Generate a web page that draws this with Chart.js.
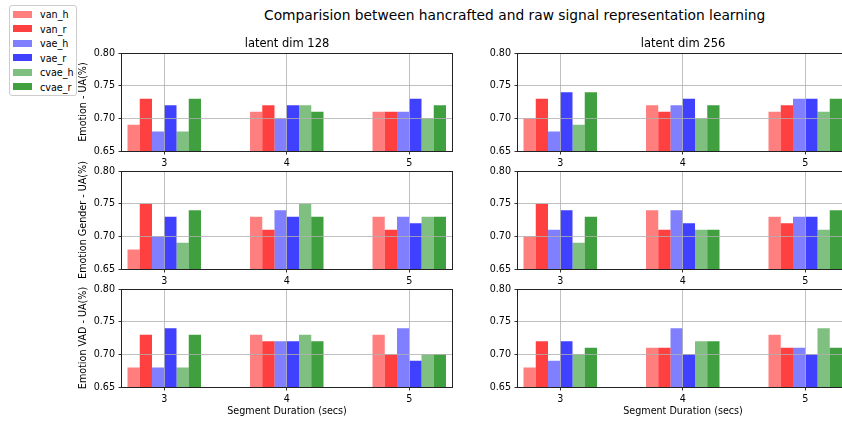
<!DOCTYPE html>
<html>
<head>
<meta charset="utf-8">
<script src="https://cdn.jsdelivr.net/npm/chart.js@4.4.1/dist/chart.umd.min.js"></script>
<style>
  html, body { margin: 0; padding: 0; background: #fff; }
  body { position: relative; width: 842px; height: 421px; overflow: hidden; font-family: "DejaVu Sans", sans-serif; color: #000; }
  canvas { position: absolute; }
  #suptitle { position: absolute; left: 264px; top: 7px; font-size: 13.8px; line-height: 16px; white-space: nowrap; }
  #legend { position: absolute; left: 9px; top: 5px; width: 68px; height: 91px; box-sizing: border-box;
            border: 1px solid #cccccc; border-radius: 3px; background: rgba(255,255,255,0.8); }
  .swatch { position: absolute; width: 19px; height: 7px; }
  .entry { position: absolute; font-size: 9.6px; line-height: 12px; white-space: nowrap; }
</style>
</head>
<body>
<div id="suptitle">Comparision between hancrafted and raw signal representation learning</div>
<div id="legend"></div>
<script>
// ---- data -------------------------------------------------------------
const durations = [3, 4, 5];                       // segment duration (secs)
const seriesNames = ['van_h', 'van_r', 'vae_h', 'vae_r', 'cvae_h', 'cvae_r'];
const seriesColors = ['rgba(255,0,0,0.5)', 'rgba(255,0,0,0.75)',
                      'rgba(0,0,255,0.5)', 'rgba(0,0,255,0.75)',
                      'rgba(0,128,0,0.5)', 'rgba(0,128,0,0.75)'];
const yTicks = [0.65, 0.70, 0.75, 0.80];
const taskLabels = ['Emotion - UA(%)', 'Emotion Gender - UA(%)', 'Emotion VAD - UA(%)'];
const dimTitles = ['latent dim 128', 'latent dim 256'];

// rows follow seriesNames, columns follow durations
const emotion128 = [
  [0.69, 0.71, 0.71],
  [0.73, 0.72, 0.71],
  [0.68, 0.70, 0.71],
  [0.72, 0.72, 0.73],
  [0.68, 0.72, 0.70],
  [0.73, 0.71, 0.72]
];
const emotion256 = [
  [0.70, 0.72, 0.71],
  [0.73, 0.71, 0.72],
  [0.68, 0.72, 0.73],
  [0.74, 0.73, 0.73],
  [0.69, 0.70, 0.71],
  [0.74, 0.72, 0.73]
];
const gender128 = [
  [0.68, 0.73, 0.73],
  [0.75, 0.71, 0.71],
  [0.70, 0.74, 0.73],
  [0.73, 0.73, 0.72],
  [0.69, 0.75, 0.73],
  [0.74, 0.73, 0.73]
];
const gender256 = [
  [0.70, 0.74, 0.73],
  [0.75, 0.71, 0.72],
  [0.71, 0.74, 0.73],
  [0.74, 0.72, 0.73],
  [0.69, 0.71, 0.71],
  [0.73, 0.71, 0.74]
];
const vad128 = [
  [0.68, 0.73, 0.73],
  [0.73, 0.72, 0.70],
  [0.68, 0.72, 0.74],
  [0.74, 0.72, 0.69],
  [0.68, 0.73, 0.70],
  [0.73, 0.72, 0.70]
];
const vad256 = [
  [0.68, 0.71, 0.73],
  [0.72, 0.71, 0.71],
  [0.69, 0.74, 0.71],
  [0.72, 0.70, 0.70],
  [0.70, 0.72, 0.74],
  [0.71, 0.72, 0.71]
];

// ---- layout -------------------------------------------------------------
const FONT = '"DejaVu Sans", sans-serif';
const colLeft = [122, 518];
const rowTop = [53, 171, 289];
const axW = 330, axH = 98;
const padL = 80, padT = 30, padR = 2, padB = 40;
const xMin = 2.655, xMax = 5.349;

const panels = [
  { values: emotion128, row: 0, col: 0 },
  { values: emotion256, row: 0, col: 1 },
  { values: gender128,  row: 1, col: 0 },
  { values: gender256,  row: 1, col: 1 },
  { values: vad128,     row: 2, col: 0 },
  { values: vad256,     row: 2, col: 1 }
];

// full box around each plotting area
const framePlugin = {
  id: 'frame',
  afterDraw(chart) {
    const { ctx, chartArea: a } = chart;
    ctx.save();
    ctx.strokeStyle = '#222';
    ctx.lineWidth = 1;
    ctx.strokeRect(a.left - 0.5, a.top + 0.5, a.right - a.left + 1, a.bottom - a.top);
    ctx.restore();
  }
};

// column heading above the top row
const panelTitlePlugin = {
  id: 'panelTitle',
  afterDraw(chart, args, opts) {
    if (!opts.text) return;
    const { ctx, chartArea: a } = chart;
    ctx.save();
    ctx.font = '11.5px ' + FONT;
    ctx.fillStyle = '#000';
    ctx.textAlign = 'center';
    ctx.textBaseline = 'alphabetic';
    ctx.fillText(opts.text, (a.left + a.right) / 2, a.top - 6);
    ctx.restore();
  }
};

const gridStyle = { color: '#b0b0b0', lineWidth: 0.8, z: 1, offset: false,
                    tickLength: 3.5, tickColor: '#000', tickWidth: 0.8 };
const tickFont = { family: FONT, size: 9.6 };

panels.forEach(p => {
  const cv = document.createElement('canvas');
  const w = axW + padL + padR, h = axH + padT + padB;
  cv.width = w; cv.height = h;
  cv.style.width = w + 'px'; cv.style.height = h + 'px';
  cv.style.left = (colLeft[p.col] - padL) + 'px';
  cv.style.top = (rowTop[p.row] - padT) + 'px';
  document.body.appendChild(cv);

  new Chart(cv, {
    type: 'bar',
    data: {
      datasets: seriesNames.map((name, i) => ({
        label: name,
        data: durations.map((d, j) => ({ x: d, y: p.values[i][j] })),
        backgroundColor: seriesColors[i],
        borderWidth: 0,
        categoryPercentage: 0.6,
        barPercentage: 1.0
      }))
    },
    options: {
      responsive: false,
      animation: false,
      devicePixelRatio: 1,
      layout: { padding: { left: 0, top: padT, right: padR, bottom: 0 } },
      plugins: {
        legend: { display: false },
        tooltip: { enabled: false },
        title: { display: false },
        panelTitle: { text: p.row === 0 ? dimTitles[p.col] : '' }
      },
      scales: {
        x: {
          type: 'linear',
          min: xMin, max: xMax,
          offset: false,
          afterBuildTicks: s => { s.ticks = durations.map(v => ({ value: v })); },
          afterFit: s => { s.height = padB; },
          ticks: { color: '#000', font: tickFont, padding: 3.5, maxRotation: 0, autoSkip: false,
                   callback: v => String(v) },
          grid: gridStyle,
          border: { display: false },
          title: { display: p.row === 2, text: 'Segment Duration (secs)', color: '#000',
                   font: { family: FONT, size: 9.6 }, padding: { top: 0, bottom: 10.2 } }
        },
        y: {
          min: yTicks[0], max: yTicks[yTicks.length - 1],
          beginAtZero: false,
          afterBuildTicks: s => { s.ticks = yTicks.map(v => ({ value: v })); },
          afterFit: s => { s.width = padL; },
          ticks: { color: '#000', font: tickFont, padding: 3.5, autoSkip: false,
                   callback: v => Number(v).toFixed(2) },
          grid: gridStyle,
          border: { display: false },
          title: { display: p.col === 0, text: taskLabels[p.row], color: '#000',
                   font: { family: FONT, size: 9.6 }, padding: { top: 36.2, bottom: 0 } }
        }
      }
    },
    plugins: [framePlugin, panelTitlePlugin]
  });
});

// legend entries
const legend = document.getElementById('legend');
seriesNames.forEach((name, i) => {
  const sw = document.createElement('div');
  sw.className = 'swatch';
  sw.style.left = '3px';
  sw.style.top = (5 + i * 14.45).toFixed(1) + 'px';
  sw.style.background = seriesColors[i];
  legend.appendChild(sw);
  const tx = document.createElement('div');
  tx.className = 'entry';
  tx.style.left = '30px';
  tx.style.top = (3.4 + i * 14.45).toFixed(1) + 'px';
  tx.textContent = name;
  legend.appendChild(tx);
});
</script>
</body>
</html>
